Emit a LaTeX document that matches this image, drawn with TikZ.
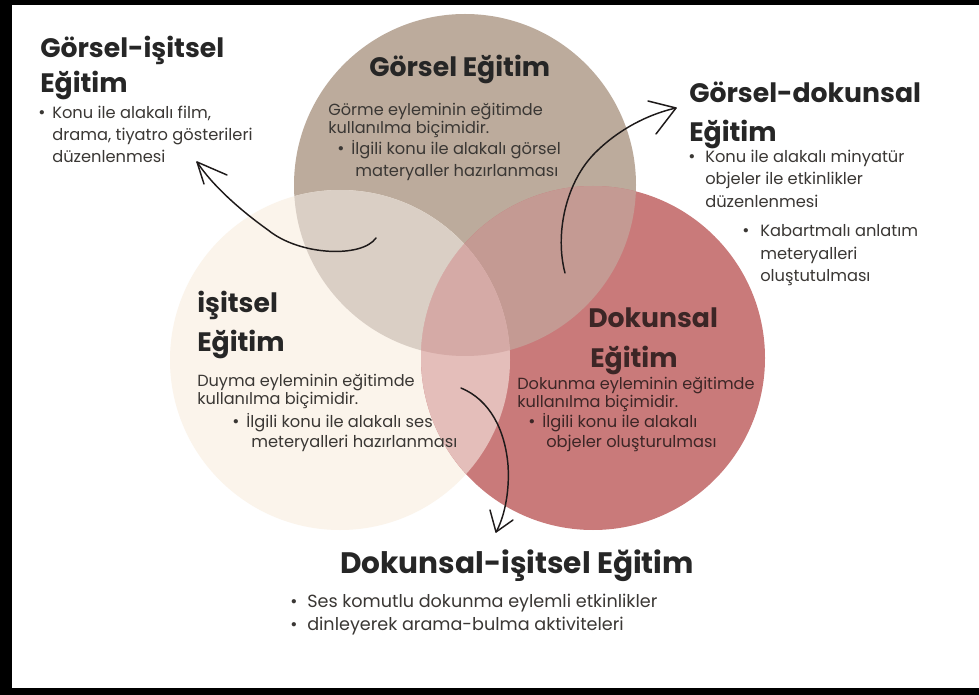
\documentclass[tikz,border=0pt]{standalone}
\usepackage{fontspec}
\setmainfont{Poppins}
\usetikzlibrary{calc}
\definecolor{cG}{HTML}{BCAB9C}
\definecolor{cC}{HTML}{FBF4EB}
\definecolor{cR}{HTML}{C97A7A}
\definecolor{cGC}{HTML}{DACFC5}
\definecolor{cGR}{HTML}{C49A93}
\definecolor{cCR}{HTML}{E4BEBA}
\definecolor{cGCR}{HTML}{D5AAA6}
\definecolor{headc}{HTML}{262626}
\definecolor{bodyc}{HTML}{3A3734}
\definecolor{redtxt}{HTML}{3C2626}
\definecolor{arrc}{HTML}{1E1A1A}
\begin{document}
\begin{tikzpicture}[x=0.75pt,y=-0.75pt,
  head/.style={anchor=base west, inner sep=0pt, font=\fontsize{20}{24}\selectfont\bfseries, text=headc},
  bighead/.style={head, font=\fontsize{22.2}{26}\selectfont\bfseries},
  desc/.style={anchor=base west, inner sep=0pt, font=\fontsize{12.1}{14}\selectfont, text=bodyc},
  bul/.style={anchor=base west, inner sep=0pt, font=\fontsize{12.2}{14}\selectfont, text=bodyc},
  bigbul/.style={anchor=base west, inner sep=0pt, font=\fontsize{13.2}{16}\selectfont, text=bodyc},
  dotb/.style={anchor=base west, inner sep=0pt, font=\fontsize{13}{16}\selectfont, text=bodyc},
  arr/.style={draw=arrc, line width=1.1pt, line cap=round, line join=round}]
\useasboundingbox (0,0) rectangle (979,695);
% frame
\fill[black] (0,0) rectangle (979,695);
\fill[white] (12,5) rectangle (979,688);
% circles
\coordinate (G) at (465,185);
\coordinate (C) at (340,360);
\coordinate (R) at (593,358);
\def\rG{128.25pt}\def\rC{127.5pt}\def\rR{129pt}
\fill[cG] (G) circle[radius=\rG];
\fill[cC] (C) circle[radius=\rC];
\fill[cR] (R) circle[radius=\rR];
\begin{scope}\clip (G) circle[radius=\rG]; \fill[cGC] (C) circle[radius=\rC];\end{scope}
\begin{scope}\clip (G) circle[radius=\rG]; \fill[cGR] (R) circle[radius=\rR];\end{scope}
\begin{scope}\clip (C) circle[radius=\rC]; \fill[cCR] (R) circle[radius=\rR];\end{scope}
\begin{scope}\clip (G) circle[radius=\rG]; \clip (C) circle[radius=\rC]; \fill[cGCR] (R) circle[radius=\rR];\end{scope}

% Görsel-işitsel
\node[head] (gi1) at (40,58) {Görsel-işitsel};
\node[head] (gi2) at (40,93) {Eğitim};
\node[dotb] (gib) at (38,119) {•};
\node[bul] (gi3) at (52,119) {Konu ile alakalı film,};
\node[bul] (gi4) at (52,141) {drama, tiyatro gösterileri};
\node[bul] (gi5) at (52,163) {düzenlenmesi};

% Görsel
\node[head] (g1) at (369,77) {Görsel Eğitim};
\node[desc] (g2) at (328,116) {Görme eyleminin eğitimde};
\node[desc] (g3) at (328,134) {kullanılma biçimidir.};
\node[dotb] (gb) at (337,155) {•};
\node[bul] (g4) at (351,155) {İlgili konu ile alakalı görsel};
\node[bul] (g5) at (355,177) {materyaller hazırlanması};

% Görsel-dokunsal
\node[head] (gd1) at (689,103) {Görsel-dokunsal};
\node[head] (gd2) at (689,142) {Eğitim};
\node[dotb] (gdb1) at (688,163) {•};
\node[bul] (gd3) at (705,163) {Konu ile alakalı minyatür};
\node[bul] (gd4) at (705,185) {objeler ile etkinlikler};
\node[bul] (gd5) at (705,208) {düzenlenmesi};
\node[dotb] (gdb2) at (742,237) {•};
\node[bul] (gd6) at (760,237) {Kabartmalı anlatım};
\node[bul] (gd7) at (760,260) {meteryalleri};
\node[bul] (gd8) at (760,282) {oluştutulması};

% İşitsel
\node[head] (i1) at (197,313) {işitsel};
\node[head] (i2) at (197,352) {Eğitim};
\node[desc] (i3) at (197,387) {Duyma eyleminin eğitimde};
\node[desc] (i4) at (197,405) {kullanılma biçimidir.};
\node[dotb] (ib) at (232,427) {•};
\node[bul] (i5) at (246,427) {İlgili konu ile alakalı ses};
\node[bul] (i6) at (251,448) {meteryalleri hazırlanması};

% Dokunsal
\node[head, text=redtxt] (d1) at (588,328) {Dokunsal};
\node[head, text=redtxt] (d2) at (590,368) {Eğitim};
\node[desc, text=redtxt] (d3) at (517,390) {Dokunma eyleminin eğitimde};
\node[desc, text=redtxt] (d4) at (517,408) {kullanılma biçimidir.};
\node[dotb, text=redtxt] (db) at (528,428) {•};
\node[bul, text=redtxt] (d5) at (542,428) {İlgili konu ile alakalı};
\node[bul, text=redtxt] (d6) at (546,448) {objeler oluşturulması};

% Dokunsal-işitsel
\node[bighead] (di1) at (340,573) {Dokunsal-işitsel Eğitim};
\node[dotb] (dib1) at (290,607) {•};
\node[bigbul] (di2) at (307,607) {Ses komutlu dokunma eylemli etkinlikler};
\node[dotb] (dib2) at (290,630) {•};
\node[bigbul] (di3) at (307,630) {dinleyerek arama-bulma aktiviteleri};

% arrows
\coordinate (a1s) at (376,238);
\coordinate (a1t) at (197,162);
\coordinate (a1b) at (204,184);
\coordinate (a1c) at (227,175);
\draw[arr] (a1s) .. controls (362,258) and (300,256) .. (268,230) .. controls (240,210) and (212,185) .. (a1t);
\draw[arr] (a1b) -- (a1t) -- (a1c);

\coordinate (a2s) at (565,273);
\coordinate (a2t) at (676,108);
\coordinate (a2b) at (648,101);
\coordinate (a2c) at (656,134);
\draw[arr] (a2s) .. controls (555,235) and (565,185) .. (593,155) .. controls (615,132) and (645,115) .. (a2t);
\draw[arr] (a2b) -- (a2t) -- (a2c);

\coordinate (a3s) at (461,388);
\coordinate (a3t) at (496,532);
\coordinate (a3b) at (490,510);
\coordinate (a3c) at (513,520);
\draw[arr] (a3s) .. controls (490,400) and (505,430) .. (508,465) .. controls (510,495) and (503,520) .. (a3t);
\draw[arr] (a3b) -- (a3t) -- (a3c);
\end{tikzpicture}
\end{document}
